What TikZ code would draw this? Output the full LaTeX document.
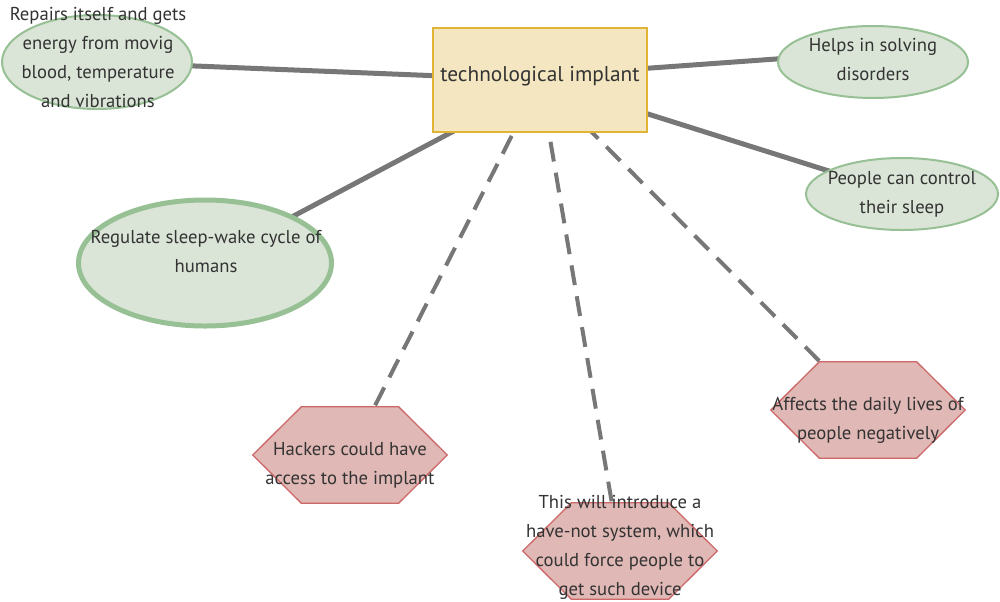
\documentclass[tikz,border=0pt]{standalone}
\usepackage{fontspec}
\setmainfont{PT Sans}
\usetikzlibrary{shapes.geometric,calc}
\definecolor{linkgray}{HTML}{777777}
\definecolor{boxfill}{HTML}{F3E6C0}
\definecolor{boxdraw}{HTML}{E2B436}
\definecolor{greenfill}{HTML}{DAE5D7}
\definecolor{greendraw}{HTML}{97C095}
\definecolor{redfill}{HTML}{E0B8B5}
\definecolor{reddraw}{HTML}{CC6868}
\definecolor{textc}{HTML}{333333}
\pgfdeclarelayer{bg}
\pgfsetlayers{bg,main}
\begin{document}
\begin{tikzpicture}[x=0.75pt,y=-0.75pt,
  link/.style={draw=linkgray,line width=3.75pt},
  dlink/.style={draw=linkgray,line width=3pt,dash pattern=on 15pt off 8.5pt},
  central/.style={rectangle,draw=boxdraw,fill=boxfill,line width=1.5pt,minimum width=160.5pt,minimum height=78pt,inner sep=0},
  idea/.style={ellipse,draw=greendraw,fill=greenfill,line width=1.5pt,inner sep=0},
  hexanchor/.style={rectangle,minimum width=145.5pt,minimum height=72pt,inner sep=0},
  hexdraw/.style={draw=reddraw,fill=redfill,line width=1pt},
  txt/.style={text=textc,align=center,font=\fontsize{14}{21.75}\selectfont,inner sep=0},
  bigtxt/.style={text=textc,align=center,font=\fontsize{16}{18}\selectfont,inner sep=0}
]
\useasboundingbox (0,0) rectangle (1000,601);

% central box
\node[central] (c) at (540,80) {};
\node[bigtxt] (ct) at (540,76) {technological implant};

% green ellipses
\node[idea,minimum width=142.5pt,minimum height=70.5pt] (a) at (97,62) {};
\node[idea,minimum width=142.5pt,minimum height=54pt] (b) at (873,62) {};
\node[idea,minimum width=144pt,minimum height=54pt] (cc) at (902,194) {};
\node[idea,line width=3.75pt,minimum width=189.75pt,minimum height=94.5pt] (d) at (205,263) {};

% hexagon anchors
\node[hexanchor] (e) at (350,455) {};
\node[hexanchor] (f) at (620,551) {};
\node[hexanchor] (g) at (868,410) {};
\foreach \h in {e,f,g}{
  \draw[hexdraw] (\h.west) -- ($(\h.north west)!0.25!(\h.north east)$) -- ($(\h.north west)!0.75!(\h.north east)$) -- (\h.east) -- ($(\h.south west)!0.75!(\h.south east)$) -- ($(\h.south west)!0.25!(\h.south east)$) -- cycle;
}

% texts
\node[txt] (at) at (98,57.5) {Repairs itself and gets\\energy from movig\\blood, temperature\\and vibrations};
\node[txt] (bt) at (873,59.5) {Helps in solving\\disorders};
\node[txt] (cct) at (902,194.5) {People can control\\their sleep};
\node[txt] (dt) at (206,251.5) {Regulate sleep-wake cycle of\\humans};
\node[txt] (et) at (350,465.5) {Hackers could have\\access to the implant};
\node[txt] (ft) at (620,547) {This will introduce a\\have-not system, which\\could force people to\\get such device};
\node[txt] (gt) at (868,420.5) {Affects the daily lives of\\people negatively};

% connectors
\begin{pgfonlayer}{bg}
\draw[link] (c.center) -- (a.center);
\draw[link] ($(c.center)+(0,-4)$) -- ($(b.center)+(0,-10)$);
\draw[link] (c.center) -- (cc.center);
\draw[link] ($(c.center)+(10,0)$) -- (d.center);
\draw[dlink] (c.center) -- (e.center);
\draw[dlink] (c.center) -- (f.center);
\draw[dlink] (c.center) -- (g.center);
\end{pgfonlayer}
\end{tikzpicture}
\end{document}
